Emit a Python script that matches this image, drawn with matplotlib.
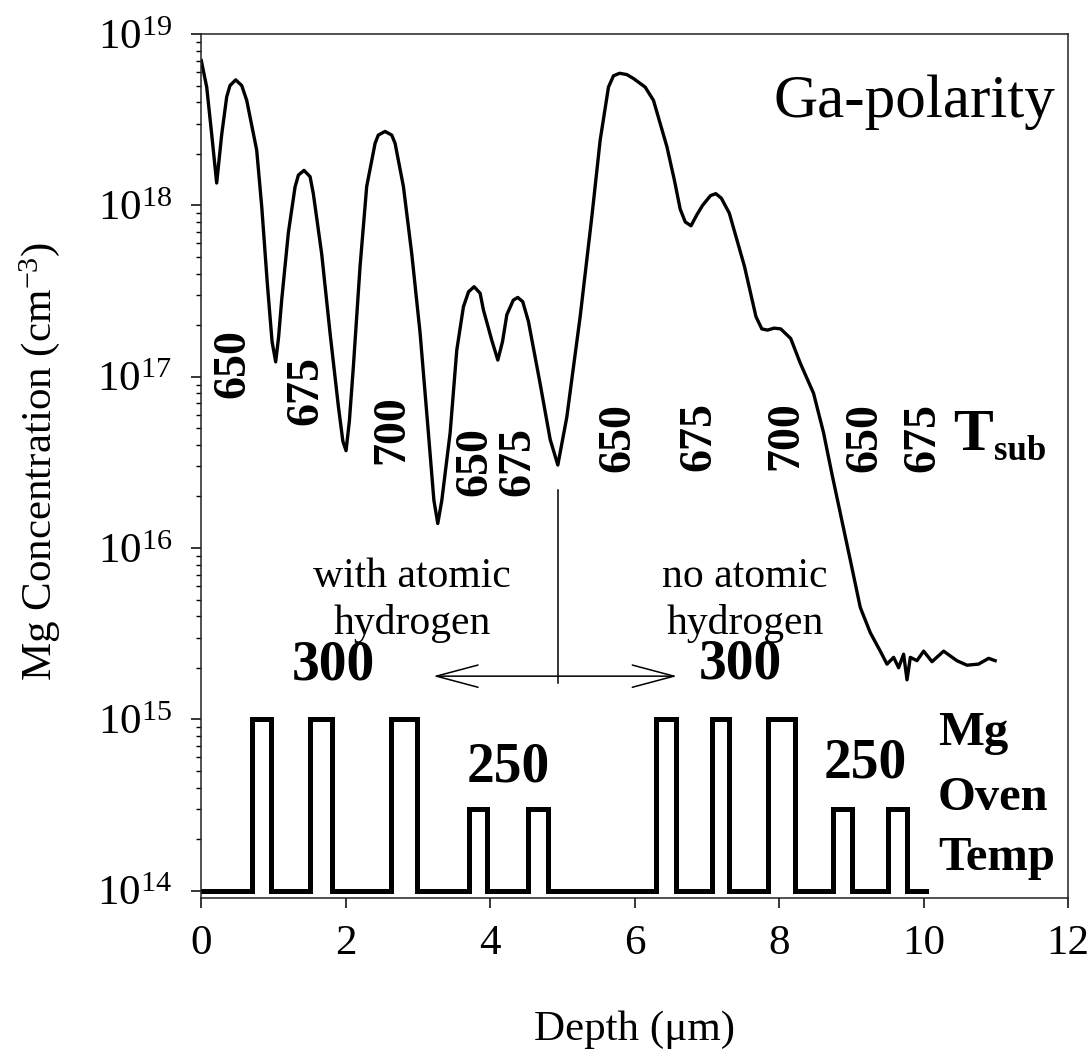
import matplotlib
matplotlib.use("Agg")
import matplotlib.pyplot as plt
from matplotlib.ticker import LogLocator, NullFormatter, FuncFormatter
import numpy as np

plt.rcParams['font.family'] = ['Liberation Serif', 'DejaVu Serif']
plt.rcParams['mathtext.fontset'] = 'custom'
plt.rcParams['mathtext.rm'] = 'Liberation Serif'
plt.rcParams['mathtext.it'] = 'Liberation Serif:italic'
plt.rcParams['mathtext.bf'] = 'Liberation Serif:bold'

# SIMS Mg profile: depth (um) vs Mg concentration (cm^-3)
depth = [0.0, 0.075, 0.144, 0.213, 0.283, 0.352, 0.397, 0.476, 0.56, 0.629,
         0.767, 0.837, 0.914, 0.98, 1.03, 1.07, 1.113, 1.205, 1.298, 1.344,
         1.422, 1.506, 1.551, 1.667, 1.783, 1.898, 1.96, 2.004, 2.05, 2.105,
         2.198, 2.29, 2.406, 2.45, 2.544, 2.637, 2.683, 2.798, 2.914, 3.029,
         3.144, 3.22, 3.274, 3.33, 3.445, 3.537, 3.629, 3.70, 3.777, 3.86,
         3.906, 4.02, 4.105, 4.17, 4.23, 4.32, 4.382, 4.45, 4.529, 4.691,
         4.83, 4.936, 5.06, 5.245, 5.407, 5.522, 5.637, 5.706, 5.79, 5.89,
         5.983, 6.145, 6.26, 6.446, 6.55, 6.63, 6.70, 6.78, 6.86, 6.94,
         7.05, 7.123, 7.2, 7.31, 7.52, 7.679, 7.76, 7.838, 7.93, 8.022,
         8.16, 8.292, 8.476, 8.615, 8.731, 8.846, 8.985, 9.123, 9.262, 9.40,
         9.493, 9.585, 9.654, 9.723, 9.77, 9.816, 9.908, 10.0, 10.116, 10.277,
         10.46, 10.6, 10.76, 10.9, 10.99]
mg_conc = [7.0e18, 4.9e18, 2.6e18, 1.35e18, 2.6e18, 4.3e18, 5.0e18, 5.4e18, 5.0e18, 4.1e18,
           2.1e18, 9.8e17, 3.5e17, 1.6e17, 1.22e17, 1.7e17, 2.8e17, 6.9e17, 1.28e18, 1.5e18,
           1.6e18, 1.47e18, 1.17e18, 5.2e17, 1.79e17, 6.7e16, 4.2e16, 3.7e16, 5.5e16, 1.14e17,
           4.4e17, 1.29e18, 2.3e18, 2.57e18, 2.7e18, 2.57e18, 2.3e18, 1.29e18, 5.2e17, 1.8e17,
           4.7e16, 1.9e16, 1.39e16, 1.9e16, 4.7e16, 1.43e17, 2.56e17, 3.13e17, 3.35e17, 3.07e17,
           2.45e17, 1.64e17, 1.25e17, 1.6e17, 2.3e17, 2.8e17, 2.9e17, 2.74e17, 2.1e17, 9.1e16,
           4.3e16, 3.05e16, 5.8e16, 2.24e17, 8.6e17, 2.4e18, 4.9e18, 5.7e18, 5.9e18, 5.8e18,
           5.5e18, 4.9e18, 4.1e18, 2.2e18, 1.4e18, 9.5e17, 8.0e17, 7.6e17, 8.8e17, 1.0e18,
           1.14e18, 1.17e18, 1.1e18, 9.0e17, 4.4e17, 2.24e17, 1.9e17, 1.87e17, 1.92e17, 1.9e17,
           1.67e17, 1.2e17, 8.0e16, 4.7e16, 2.7e16, 1.6e16, 8.5e15, 4.5e15, 3.2e15, 2.5e15,
           2.1e15, 2.3e15, 2.0e15, 2.4e15, 1.7e15, 2.3e15, 2.2e15, 2.5e15, 2.17e15, 2.5e15,
           2.2e15, 2.07e15, 2.1e15, 2.27e15, 2.2e15]

# Mg oven pulses (schematic trace)
pulse_start = [0.70, 1.51, 2.62, 3.70, 4.52, 6.29, 7.07, 7.84, 8.75, 9.51]
pulse_end = [0.96, 1.81, 2.98, 3.95, 4.80, 6.57, 7.31, 8.22, 9.01, 9.77]
pulse_level = [1e15, 1e15, 1e15, 3e14, 3e14, 1e15, 1e15, 1e15, 3e14, 3e14]
oven_base = 1e14
oven_end = 10.03

# substrate temperature labels
tsub_labels = ['650', '675', '700', '650', '675', '650', '675', '700', '650', '675']
tsub_x = [0.44, 1.45, 2.64, 3.79, 4.39, 5.77, 6.90, 8.10, 9.20, 10.0]
tsub_y = [1.2e17, 8.3e16, 4.9e16, 3.2e16, 3.2e16, 4.4e16, 4.5e16, 4.5e16, 4.4e16, 4.4e16]

# oven temperature labels
oven_labels = ['300', '250', '300', '250']
oven_x = [1.825, 4.25, 7.46, 9.19]
oven_y = [2.07e15, 5.2e14, 2.1e15, 5.5e14]

fig = plt.figure(figsize=(10.91, 10.63), dpi=100)
ax = fig.add_axes([0.1845, 0.1552, 0.7945, 0.8128])

ax.plot(depth, mg_conc, color='black', lw=2.4, solid_joinstyle='round')

xs = [0.0]
ys = [oven_base]
for s, e, lev in zip(pulse_start, pulse_end, pulse_level):
    xs += [s, s, e, e]
    ys += [oven_base, lev, lev, oven_base]
xs.append(oven_end)
ys.append(oven_base)
ax.plot(xs, ys, color='black', lw=3.6, solid_joinstyle='miter')

ax.set_yscale('log')
ax.set_xlim(0, 12)
ax.set_ylim(10 ** 13.957, 1e19)
ax.set_xticks([0, 2, 4, 6, 8, 10, 12])
ax.set_yticks([1e14, 1e15, 1e16, 1e17, 1e18, 1e19])
ax.yaxis.set_minor_locator(LogLocator(base=10, subs=np.arange(2, 10)))
ax.yaxis.set_minor_formatter(NullFormatter())
ax.yaxis.set_major_formatter(FuncFormatter(lambda v, p: r'$10^{%d}$' % round(np.log10(v))))
ax.tick_params(axis='both', which='major', direction='out', length=7, width=1.1,
               labelsize=31, top=False, right=False)
ax.tick_params(axis='y', which='major', pad=14)
ax.tick_params(axis='x', which='major', pad=12)
ax.tick_params(axis='y', which='minor', direction='out', length=3.6, width=1.0, right=False)
for sp in ax.spines.values():
    sp.set_linewidth(1.1)
    sp.set_color('#222222')

fig.text(40 / 1091, 1 - 461 / 1063, r'Mg Concentration (cm$^{-3}$)', rotation=90,
         ha='center', va='center', fontsize=31)
fig.text(634 / 1091, 1 - 1030 / 1063, u'Depth (\u03bcm)', ha='center', va='center', fontsize=31)

ax.text(11.82, 3.27e18, 'Ga-polarity', ha='right', va='baseline', fontsize=44)

for lab, x, y in zip(tsub_labels, tsub_x, tsub_y):
    ax.text(x, y, lab, rotation=90, ha='center', va='center', fontsize=33,
            fontweight='bold')
ax.text(10.41, 3.72e16, 'T', ha='left', va='baseline', fontsize=43, fontweight='bold')
ax.text(10.98, 3.28e16, 'sub', ha='left', va='baseline', fontsize=25, fontweight='bold')

for lab, x, y in zip(oven_labels, oven_x, oven_y):
    ax.text(x, y, lab, ha='center', va='center', fontsize=40, fontweight='bold')
ax.text(10.2, 10 ** 14.85, 'Mg', ha='left', va='baseline', fontsize=35, fontweight='bold')
ax.text(10.2, 10 ** 14.47, 'Oven', ha='left', va='baseline', fontsize=35, fontweight='bold')
ax.text(10.2, 10 ** 14.12, 'Temp', ha='left', va='baseline', fontsize=35, fontweight='bold')

ax.text(2.92, 10 ** 15.696, 'with atomic\nhydrogen', ha='center', va='center',
        fontsize=30, linespacing=1.25)
ax.text(7.53, 10 ** 15.696, 'no atomic\nhydrogen', ha='center', va='center',
        fontsize=30, linespacing=1.25)

ax.annotate('', xy=(3.213, 10 ** 15.252), xytext=(6.585, 10 ** 15.252),
            arrowprops=dict(arrowstyle='<->,head_length=3,head_width=0.8',
                            mutation_scale=10, lw=1.1, color='black',
                            shrinkA=0, shrinkB=0))
ax.plot([4.945, 4.945], [2.18e16, 1.62e15], color='black', lw=1.1)

fig.savefig('out.png', dpi=100)
